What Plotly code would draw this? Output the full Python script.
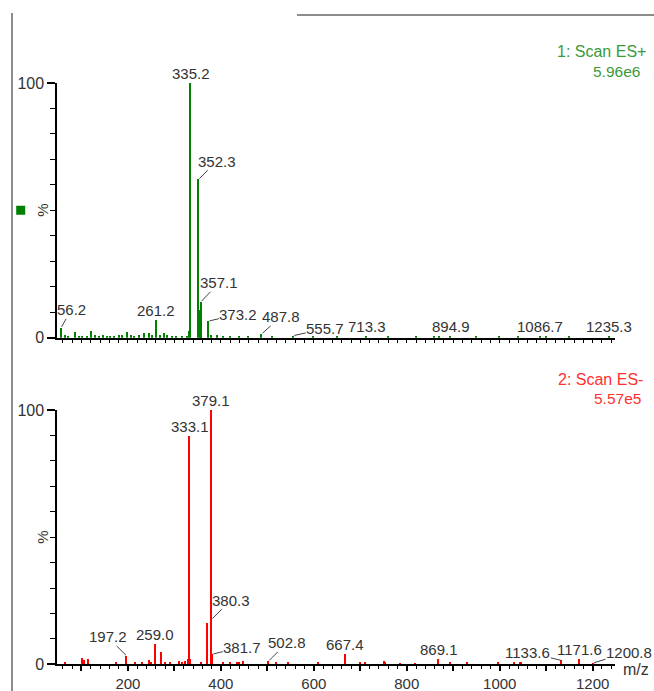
import plotly.graph_objects as go

# ---------------- DATA ----------------
# Scan 1: ES+ (relative intensity, %)
pos_mz = [56.2, 65.0, 72.0, 86.7, 95.0, 103.0, 112.0, 120.4, 130.0, 138.0, 147.0, 155.0,
          163.0, 172.0, 181.0, 189.0, 198.5, 207.0, 215.0, 224.0, 235.7, 245.8, 252.0,
          261.2, 270.0, 278.7, 286.0, 295.0, 305.0, 318.0, 327.0, 333.0, 335.2, 352.3,
          355.5, 356.3, 357.1, 358.0, 373.2, 380.0, 393.5, 405.0, 420.0, 440.0, 460.0,
          487.8, 510.0, 555.7, 600.0, 650.0, 713.3, 760.0, 820.0, 860.0, 870.0, 894.9,
          950.0, 1000.0, 1040.0, 1086.7, 1100.0, 1150.0, 1235.3]
pos_int = [3.9, 1.2, 0.8, 2.3, 0.8, 0.7, 0.6, 2.7, 1.0, 0.8, 0.9, 0.6,
           0.7, 0.8, 1.1, 0.9, 2.2, 1.0, 0.8, 1.2, 2.0, 2.0, 1.0,
           6.9, 1.2, 1.8, 1.0, 0.7, 0.6, 0.7, 0.6, 2.5, 100.0, 62.2,
           10.5, 10.8, 14.1, 10.5, 6.5, 1.2, 1.0, 0.7, 0.6, 0.6, 0.5,
           1.5, 0.5, 0.8, 0.4, 0.5, 0.6, 0.4, 0.5, 0.6, 0.5, 0.7,
           0.4, 0.5, 0.4, 0.7, 0.4, 0.4, 0.6]
pos_labels = [56.2, 261.2, 335.2, 352.3, 357.1, 373.2, 487.8, 555.7, 713.3, 894.9, 1086.7, 1235.3]

# Scan 2: ES- (relative intensity, %)
neg_mz = [65.0, 103.0, 106.7, 114.0, 174.8, 197.2, 215.7, 232.0, 246.5, 251.6, 259.0,
          271.6, 280.0, 291.0, 310.0, 318.0, 324.7, 331.0, 333.1, 335.0, 359.0, 371.2,
          379.1, 380.3, 381.7, 405.6, 421.5, 435.0, 439.4, 449.5, 502.8, 520.0, 545.0,
          610.0, 667.4, 701.0, 712.0, 752.0, 754.0, 787.0, 818.0, 869.1, 893.0, 931.0,
          998.0, 1031.5, 1043.6, 1047.0, 1133.6, 1171.6, 1200.8]
neg_int = [1.0, 2.4, 1.5, 2.0, 1.0, 3.3, 1.0, 1.0, 1.5, 1.0, 7.9,
           4.7, 1.0, 0.8, 1.3, 1.0, 1.2, 2.2, 89.8, 2.0, 1.0, 16.3,
           100.0, 17.7, 4.0, 0.8, 0.8, 1.0, 1.0, 1.2, 1.3, 0.8, 0.8,
           0.8, 4.0, 1.0, 0.8, 1.2, 1.0, 0.5, 0.5, 2.0, 1.0, 0.8,
           1.0, 1.0, 1.0, 0.8, 1.5, 2.0, 0.5]
neg_labels = [197.2, 259.0, 333.1, 379.1, 380.3, 381.7, 502.8, 667.4, 869.1, 1133.6, 1171.6, 1200.8]

x_tickvals = [100, 200, 300, 400, 500, 600, 700, 800, 900, 1000, 1100, 1200]
x_ticktext = ["", "200", "", "400", "", "600", "", "800", "", "1000", "", "1200"]

titles = [("1: Scan ES+", "5.96e6"), ("2: Scan ES-", "5.57e5")]

# ---------------- STYLE ----------------
W, H = 654, 691
FONT = "Liberation Sans, Arial, sans-serif"
TXT = "#333333"
GREEN = "#008000"
RED = "#ff0000"

# pixel offsets (ax, ay) of labels with leader lines; others sit straight above the bar
leader = {
    56.2: (10, -18), 352.3: (18, -18), 357.1: (18, -19), 373.2: (30, -7),
    487.8: (19, -17), 555.7: (32, -7),
    197.2: (-19, -19), 380.3: (19, -19), 381.7: (30, -7), 502.8: (18, -18),
    1133.6: (-34, -8), 1200.8: (36, -11),
}

x_dom = [57.3 / W, 615 / W]
top_dom = [1 - 337.7 / H, 1 - 83 / H]
bot_dom = [1 - 664.3 / H, 1 - 410 / H]

fig = go.Figure()
fig.add_trace(go.Bar(x=pos_mz, y=pos_int, width=2.8, marker=dict(color=GREEN, line=dict(width=0)),
                     xaxis="x", yaxis="y", showlegend=False))
fig.add_trace(go.Bar(x=neg_mz, y=neg_int, width=2.8, marker=dict(color=RED, line=dict(width=0)),
                     xaxis="x2", yaxis="y2", showlegend=False))

xcommon = dict(range=[48, 1248], showline=True, linecolor="black", linewidth=2,
               showgrid=False, zeroline=False, ticks="outside", ticklen=5, tickwidth=1.5,
               tickcolor="black", tickmode="array", tickvals=x_tickvals, automargin=False,
               minor=dict(tickmode="linear", tick0=0, dtick=20, ticks="outside", ticklen=3,
                          tickwidth=1, tickcolor="black", showgrid=False),
               tickfont=dict(family=FONT, size=15, color=TXT), fixedrange=True)
ycommon = dict(range=[0, 100], showline=True, linecolor="black", linewidth=2,
               showgrid=False, zeroline=False, ticks="outside", ticklen=8, tickwidth=1.5,
               tickcolor="black", tickmode="array", tickvals=[0, 100], ticktext=["0", "100"],
               automargin=False,
               minor=dict(tickmode="linear", tick0=0, dtick=10, ticks="outside", ticklen=5,
                          tickwidth=1, tickcolor="black", showgrid=False),
               tickfont=dict(family=FONT, size=16, color=TXT), fixedrange=True)

fig.update_layout(
    width=W, height=H, margin=dict(l=0, r=0, t=0, b=0, pad=0, autoexpand=False),
    paper_bgcolor="white", plot_bgcolor="white",
    xaxis=dict(xcommon, domain=x_dom, anchor="y", ticktext=[""] * len(x_tickvals), showticklabels=False),
    yaxis=dict(ycommon, domain=top_dom, anchor="x"),
    xaxis2=dict(xcommon, domain=x_dom, anchor="y2", ticktext=x_ticktext),
    yaxis2=dict(ycommon, domain=bot_dom, anchor="x2"),
    bargap=0,
)

annots = []

def add_labels(mzs, ints, labels, xr, yr):
    lut = dict(zip(mzs, ints))
    for m in labels:
        v = lut[m]
        txt = f"{m:.1f}"
        if m in leader:
            ax, ay = leader[m]
            annots.append(dict(x=m, y=v, xref=xr, yref=yr, text=txt, showarrow=True,
                               arrowhead=0, arrowwidth=1, arrowcolor="#444444", ax=ax, ay=ay,
                               standoff=1, borderpad=0,
                               font=dict(family=FONT, size=15, color=TXT)))
        else:
            annots.append(dict(x=m, y=v, xref=xr, yref=yr, text=txt, showarrow=False,
                               yanchor="bottom", yshift=0, borderpad=0,
                               font=dict(family=FONT, size=15, color=TXT)))

add_labels(pos_mz, pos_int, pos_labels, "x", "y")
add_labels(neg_mz, neg_int, neg_labels, "x2", "y2")

# scan titles
title_pos = [((648 / W, 1 - 52 / H), (642 / W, 1 - 71.5 / H), "#3a9a3a"),
             ((645 / W, 1 - 379 / H), (643 / W, 1 - 398.5 / H), "#ff3030")]
for (t1, t2), (p1, p2, col) in zip(titles, title_pos):
    annots.append(dict(x=p1[0], y=p1[1], xref="paper", yref="paper", text=t1, showarrow=False,
                       xanchor="right", yanchor="middle", font=dict(family=FONT, size=16, color=col)))
    annots.append(dict(x=p2[0], y=p2[1], xref="paper", yref="paper", text=t2, showarrow=False,
                       xanchor="right", yanchor="middle", font=dict(family=FONT, size=15.5, color=col)))

# "%" axis labels
for yr in ["y", "y2"]:
    annots.append(dict(x=42.5 / W, y=50, xref="paper", yref=yr, text="%", showarrow=False,
                       textangle=-90, xanchor="center", yanchor="middle",
                       font=dict(family=FONT, size=15, color=TXT)))

# m/z label
annots.append(dict(x=636 / W, y=1 - 669 / H, xref="paper", yref="paper", text="m/z",
                   showarrow=False, xanchor="center", yanchor="middle",
                   font=dict(family=FONT, size=16, color=TXT)))

fig.update_layout(annotations=annots)

# decorations: green marker square and window border lines
fig.add_shape(type="rect", xref="paper", yref="y", x0=16.2 / W, x1=25.2 / W,
              ysizemode="pixel", yanchor=50, y0=-4.5, y1=4.5,
              fillcolor=GREEN, line=dict(width=0))
fig.add_shape(type="line", xref="paper", yref="paper", x0=12 / W, x1=12 / W, y0=0, y1=1 - 13 / H,
              line=dict(color="#8c8c8c", width=2))
fig.add_shape(type="line", xref="paper", yref="paper", x0=297 / W, x1=1, y0=1 - 15 / H, y1=1 - 15 / H,
              line=dict(color="#8c8c8c", width=2))

fig.write_html("out.html", config={"displayModeBar": False, "responsive": False},
               post_script="document.body.style.margin='0';document.body.style.padding='0';")
